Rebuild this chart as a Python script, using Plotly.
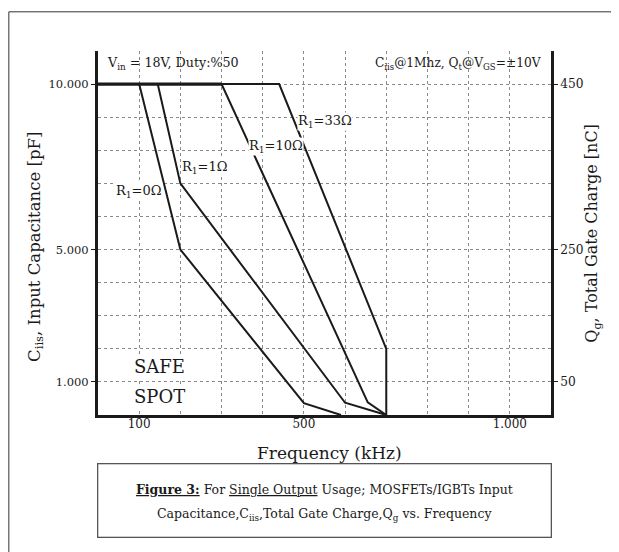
import plotly.graph_objects as go

# ---- data ----
freq_r0 = [0, 100, 200, 500, 590]
cap_r0 = [10000, 10000, 5000, 360, 0]

freq_r1 = [0, 145, 200, 600, 700]
cap_r1 = [10000, 10000, 7000, 370, 0]

freq_r10 = [0, 300, 655, 700]
cap_r10 = [10000, 10000, 380, 0]

freq_r33 = [0, 440, 700, 700]
cap_r33 = [10000, 10000, 2000, 0]

cap_freq = [0, 300]
cap_val = [10000, 10000]

x_tick_vals = [100, 500, 1000]
x_tick_text = ["100", "500", "1.000"]
y_tick_vals = [1000, 5000, 10000]
y_tick_text = ["1.000", "5.000", "10.000"]
q_tick_text = ["50", "250", "450"]

labels = ["R<sub>1</sub>=0Ω", "R<sub>1</sub>=1Ω", "R<sub>1</sub>=10Ω", "R<sub>1</sub>=33Ω"]
label_x = [100, 260, 432, 552]
label_y = [6750, 7470, 8115, 8870]

FONT = "DejaVu Serif"
INK = "#1a1a1a"
GRID = "#8a8a8a"

# page body has an 8px margin; figure sized to fit the 619x552 window
OFF = 8
W, H = 619 - OFF, 552 - OFF
# plot area in window pixels: x 97.8..551, y 51.2..415.4
PL, PR, PT, PB = 97.8, 551.0, 51.2, 415.4


def px(xp):
    return (xp - PL) / (PR - PL)


def py(yp):
    return (PB - yp) / (PB - PT)


fig = go.Figure()
for fx, cy in [(freq_r0, cap_r0), (freq_r1, cap_r1), (freq_r10, cap_r10), (freq_r33, cap_r33)]:
    fig.add_trace(go.Scatter(x=fx, y=cy, mode="lines",
                             line=dict(color=INK, width=2), showlegend=False,
                             hoverinfo="skip"))
# heavier common top segment, drawn against the right-hand (Qg) axis, same scale
fig.add_trace(go.Scatter(x=cap_freq, y=cap_val, mode="lines", yaxis="y2",
                         line=dict(color=INK, width=3.2), showlegend=False,
                         hoverinfo="skip"))

C = dict(xanchor="center", yanchor="middle", showarrow=False)

annotations = []
for t, lx, ly in zip(labels, label_x, label_y):
    annotations.append(dict(x=lx, y=ly, xref="x", yref="y", text=t, **C,
                            font=dict(family=FONT, size=13, color=INK),
                            bgcolor="white", borderpad=0))
for t, yy in [("SAFE", 1471), ("SPOT", 565)]:
    annotations.append(dict(x=149, y=yy, xref="x", yref="y", text=t, **C,
                            font=dict(family=FONT, size=18, color=INK),
                            bgcolor="white", borderpad=1))

annotations += [
    dict(x=px(173), y=py(64), xref="paper", yref="paper", **C,
         text="V<sub>in</sub> = 18V, Duty:%50", font=dict(family=FONT, size=12.7, color=INK)),
    dict(x=px(457.5), y=py(64), xref="paper", yref="paper", **C,
         text="C<sub>iis</sub>@1Mhz, Q<sub>t</sub>@V<sub>GS</sub>=±10V",
         font=dict(family=FONT, size=12.2, color=INK)),
    dict(x=px(35), y=py(247), xref="paper", yref="paper", **C, textangle=-90,
         text="C<sub>iis</sub>, Input Capacitance [pF]", font=dict(family=FONT, size=16.5, color=INK)),
    dict(x=px(593), y=py(233), xref="paper", yref="paper", **C, textangle=-90,
         text="Q<sub>g</sub>, Total Gate Charge [nC]", font=dict(family=FONT, size=16, color=INK)),
    dict(x=px(329), y=py(453), xref="paper", yref="paper", **C,
         text="Frequency (kHz)", font=dict(family=FONT, size=17, color=INK)),
    # caption box
    dict(x=px(324), y=py(501), xref="paper", yref="paper", **C, text="",
         width=452, height=72, bordercolor="#555555", borderwidth=1.3, borderpad=0),
    dict(x=px(324.5), y=py(490), xref="paper", yref="paper", **C,
         text="<b><span style='text-decoration:underline'>Figure 3:</span></b> For "
              "<span style='text-decoration:underline'>Single Output</span> Usage; MOSFETs/IGBTs Input",
         font=dict(family=FONT, size=12.5, color=INK)),
    dict(x=px(324), y=py(515), xref="paper", yref="paper", **C,
         text="Capacitance,C<sub>iis</sub>,Total Gate Charge,Q<sub>g</sub> vs. Frequency",
         font=dict(family=FONT, size=12.5, color=INK)),
]

shapes = [
    dict(type="line", xref="paper", yref="paper", x0=px(8.6), x1=px(8.6),
         y0=py(560), y1=py(12), line=dict(color="#333333", width=1)),
    dict(type="line", xref="paper", yref="paper", x0=px(8.6), x1=px(612),
         y0=py(12), y1=py(12), line=dict(color="#333333", width=1)),
]

fig.update_layout(
    width=W, height=H,
    margin=dict(l=PL - OFF, r=W - (PR - OFF), t=PT - OFF, b=H - (PB - OFF), autoexpand=False),
    paper_bgcolor="white", plot_bgcolor="white",
    font=dict(family=FONT, color=INK),
    annotations=annotations, shapes=shapes,
    xaxis=dict(range=[0, 1100], tickvals=x_tick_vals, ticktext=x_tick_text,
               showgrid=True, gridcolor=GRID, griddash="dot", gridwidth=1,
               minor=dict(tick0=0, dtick=100, showgrid=True, gridcolor=GRID, griddash="dot", gridwidth=1),
               showline=True, linecolor=INK, linewidth=3, ticks="", zeroline=False,
               automargin=False, ticklabelstandoff=-4,
               tickfont=dict(family=FONT, size=12, color=INK)),
    yaxis=dict(range=[0, 11000], tickvals=y_tick_vals, ticktext=y_tick_text,
               showgrid=True, gridcolor=GRID, griddash="dot", gridwidth=1,
               minor=dict(tick0=0, dtick=1000, showgrid=True, gridcolor=GRID, griddash="dot", gridwidth=1),
               showline=True, linecolor=INK, linewidth=3, ticks="outside", ticklen=4,
               tickcolor=INK, zeroline=False, automargin=False,
               tickfont=dict(family=FONT, size=11.5, color=INK)),
    yaxis2=dict(range=[0, 11000], overlaying="y", side="right", anchor="x",
                tickvals=y_tick_vals, ticktext=q_tick_text, showgrid=False,
                showline=True, linecolor=INK, linewidth=2.5, ticks="outside", ticklen=4,
                tickcolor=INK, zeroline=False, automargin=False,
                tickfont=dict(family=FONT, size=12.2, color=INK)),
)

fig.write_html("out.html")
